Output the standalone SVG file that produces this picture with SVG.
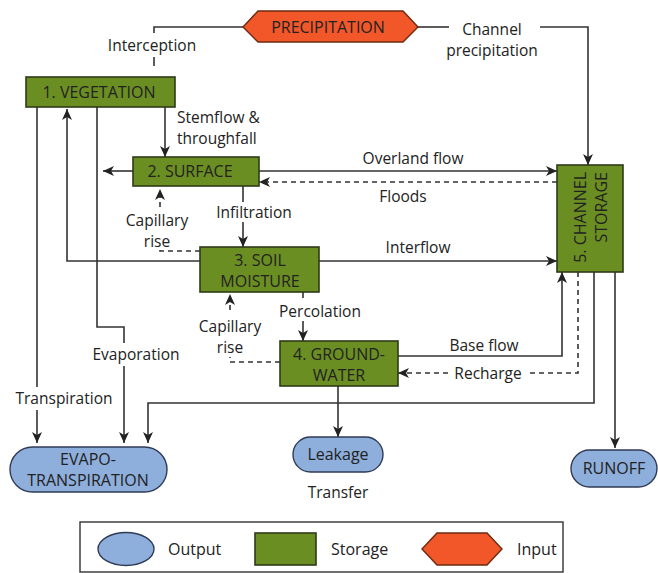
<svg xmlns="http://www.w3.org/2000/svg" width="658" height="573" viewBox="0 0 658 573">
<defs>
<style>
text{font-family:"Open Sans","Noto Sans","DejaVu Sans",sans-serif;font-size:16px;fill:#222}
.l{font-size:15.5px}
.n{text-anchor:middle}
.store{fill:#6b8e23;stroke:#2f3a18;stroke-width:1.6}
.out{fill:#8eaedb;stroke:#2f3b55;stroke-width:1.4}
.inp{fill:#f2572a;stroke:#6e2a10;stroke-width:1.4}
.c{fill:none;stroke:#333;stroke-width:1.6}
.d{fill:none;stroke:#333;stroke-width:1.6;stroke-dasharray:5,4}
.a{marker-end:url(#ah)}
</style>
<marker id="ah" markerUnits="userSpaceOnUse" markerWidth="12" markerHeight="12" refX="11" refY="6" orient="auto">
<path d="M0,1 L11,6 L0,11 L3,6 z" fill="#222"/>
</marker>
</defs>
<rect width="658" height="573" fill="#fff"/>

<g id="connectors">
<polyline class="c" points="243,27 154,27 154,33"/>
<line class="c" x1="154" y1="57" x2="154" y2="66"/>
<line class="c" x1="418" y1="27" x2="449" y2="27"/>
<polyline class="c a" points="540,27 588,27 588,165"/>
<line class="c a" x1="165" y1="107" x2="165" y2="157"/>
<line class="c a" x1="133" y1="171" x2="103" y2="171"/>
<line class="c" x1="37" y1="107" x2="37" y2="387"/>
<line class="c a" x1="37" y1="410" x2="37" y2="443"/>
<polyline class="c" points="97,107 97,327 124,327 124,343"/>
<line class="c a" x1="124" y1="366" x2="124" y2="443"/>
<polyline class="c a" points="200,261 67,261 67,109"/>
<polyline class="d" points="200,251 160,251 160,246"/>
<polyline class="d a" points="160,207 160,189"/>
<line class="c" x1="243" y1="186" x2="243" y2="202"/>
<line class="c a" x1="243" y1="222" x2="243" y2="247"/>
<line class="c a" x1="259" y1="171" x2="557" y2="171"/>
<line class="d a" x1="557" y1="182" x2="259" y2="182"/>
<line class="c a" x1="319" y1="261" x2="557" y2="261"/>
<line class="c" x1="303" y1="292" x2="303" y2="298"/>
<line class="c a" x1="303" y1="321" x2="303" y2="341"/>
<polyline class="d" points="280,362 230,362 230,357"/>
<polyline class="d a" points="230,310 230,294"/>
<polyline class="c a" points="398,356 562,356 562,272"/>
<polyline class="d" points="578,272 578,373 527,373"/>
<line class="d a" x1="448" y1="373" x2="398" y2="373"/>
<polyline class="c a" points="594,272 594,403 148,403 148,443"/>
<line class="c a" x1="615" y1="272" x2="615" y2="448"/>
<line class="c a" x1="338" y1="386" x2="338" y2="437"/>
</g>

<g id="connector-labels" class="l">
<text class="n l" x="152" y="51">Interception</text>
<text class="n l" x="492" y="35">Channel</text>
<text class="n l" x="492" y="56">precipitation</text>
<text class="l" x="177" y="123">Stemflow &amp;</text>
<text class="l" x="177" y="144">throughfall</text>
<text class="n l" x="413" y="164">Overland flow</text>
<text class="n l" x="403" y="202">Floods</text>
<text class="n l" x="157" y="226">Capillary</text>
<text class="n l" x="157" y="247">rise</text>
<text class="n l" x="254" y="218">Infiltration</text>
<text class="n l" x="418" y="253">Interflow</text>
<text class="n l" x="320" y="317">Percolation</text>
<text class="n l" x="230" y="332">Capillary</text>
<text class="n l" x="230" y="353">rise</text>
<text class="n l" x="136" y="360">Evaporation</text>
<text class="n l" x="64" y="404">Transpiration</text>
<text class="n l" x="484" y="351">Base flow</text>
<text class="n l" x="488" y="379">Recharge</text>
<text class="n l" x="338" y="498">Transfer</text>
</g>

<g id="precipitation">
<polygon class="inp" points="243,27 258,11 403,11 418,27 403,42 258,42"/>
<text class="n" x="328" y="33">PRECIPITATION</text>
</g>
<g id="vegetation">
<rect class="store" x="26" y="77" width="149" height="30"/>
<text class="n" x="99" y="98">1. VEGETATION</text>
</g>
<g id="surface">
<rect class="store" x="133" y="157" width="126" height="29"/>
<text class="n" x="190" y="177">2. SURFACE</text>
</g>
<g id="soil-moisture">
<rect class="store" x="200" y="247" width="119" height="45"/>
<text class="n" x="260" y="266">3. SOIL</text>
<text class="n" x="260" y="287">MOISTURE</text>
</g>
<g id="groundwater">
<rect class="store" x="280" y="341" width="118" height="45"/>
<text class="n" x="339" y="360">4. GROUND-</text>
<text class="n" x="339" y="381">WATER</text>
</g>
<g id="channel-storage">
<rect class="store" x="557" y="165" width="66" height="107"/>
<text transform="translate(586,172) rotate(-90)" text-anchor="end">5. CHANNEL</text>
<text transform="translate(607,172) rotate(-90)" text-anchor="end">STORAGE</text>
</g>
<g id="evapotranspiration">
<rect class="out" x="10" y="447" width="157" height="45" rx="22.5"/>
<text class="n" x="88" y="465">EVAPO-</text>
<text class="n" x="88" y="486">TRANSPIRATION</text>
</g>
<g id="leakage">
<rect class="out" x="293" y="437" width="90" height="35" rx="17.5"/>
<text class="n" x="338" y="460">Leakage</text>
</g>
<g id="runoff">
<rect class="out" x="571" y="450" width="86" height="37" rx="18.5"/>
<text class="n" x="614" y="474">RUNOFF</text>
</g>

<g id="legend">
<rect x="80" y="522" width="483" height="50" fill="#fff" stroke="#333" stroke-width="1.4"/>
<ellipse class="out" cx="126" cy="549" rx="28" ry="16.5"/>
<text x="168" y="555">Output</text>
<rect class="store" x="255" y="533" width="61" height="32"/>
<text x="331" y="555">Storage</text>
<polygon class="inp" points="422,549 437,533 487,533 502,549 487,565 437,565"/>
<text x="517" y="555">Input</text>
</g>
</svg>
